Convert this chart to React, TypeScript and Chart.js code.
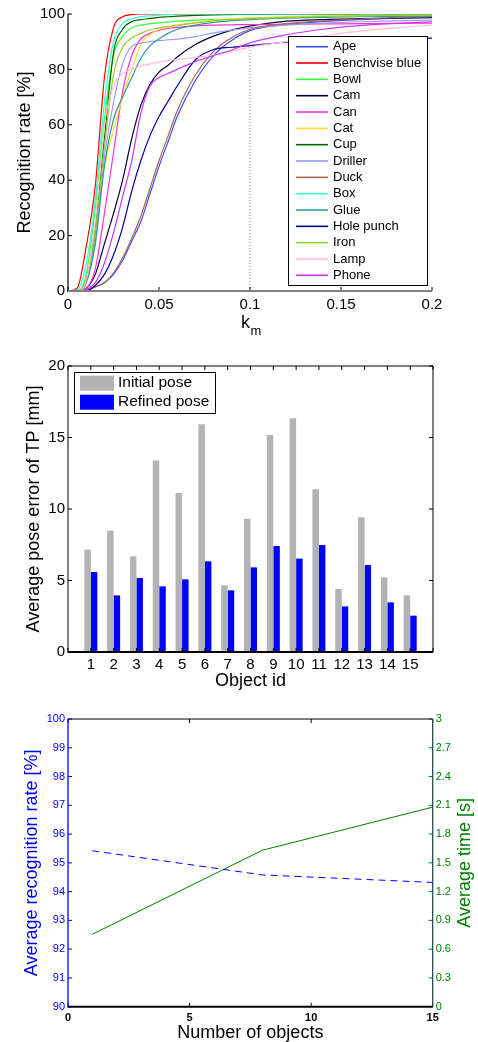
import React, { useEffect, useRef } from 'react';
import { Chart, registerables } from 'chart.js';

Chart.register(...registerables);

const FONT = '"Liberation Sans", Arial, Helvetica, sans-serif';

// ---------------- Chart 1: recognition rate vs k_m ----------------
const KM = [0, 0.005, 0.01, 0.015, 0.02, 0.025, 0.03, 0.035, 0.04, 0.045, 0.05, 0.055, 0.06, 0.07, 0.08, 0.09, 0.1, 0.12, 0.14, 0.16, 0.18, 0.2];
const KM_TICKS = [0, 0.05, 0.1, 0.15, 0.2];
const KM_TICK_LABELS = ['0', '0.05', '0.1', '0.15', '0.2'];
const OBJECT_NAMES = ['Ape', 'Benchvise blue', 'Bowl', 'Cam', 'Can', 'Cat', 'Cup', 'Driller', 'Duck', 'Box', 'Glue', 'Hole punch', 'Iron', 'Lamp', 'Phone'];
const OBJECT_COLORS = ['#3d4dff', '#ff0000', '#33ff33', '#000033', '#ff33cc', '#ffdd33', '#006600', '#9999ff', '#aa6655', '#33ffcc', '#339999', '#000099', '#99cc33', '#ffbbdd', '#cc33ff'];
const APE = [0, 0, 0.3, 1.5, 3, 6, 11, 18, 25, 35, 45, 54, 63, 76, 85, 90.5, 94, 96.2, 97.3, 98, 98.5, 98.8];
const BENCHVISE = [0, 1, 16, 38, 77, 95, 99, 99.8, 100, 100, 100, 100, 100, 100, 100, 100, 100, 100, 100, 100, 100, 100];
const BOWL = [0, 0, 6, 30, 62, 85, 92, 95, 96, 96.5, 96.8, 97.1, 97.4, 97.8, 98, 98.2, 98.5, 99, 99.2, 99.4, 99.5, 99.6];
const CAM = [0, 0, 1, 6, 17, 28, 40, 55, 67, 74.5, 79, 81.5, 84.5, 89, 92, 94.2, 95.6, 97.4, 98, 98.3, 98.5, 98.7];
const CAN = [0, 0, 1, 8, 28, 50, 72, 85, 91, 93, 94.2, 94.8, 95.2, 95.7, 96, 96.1, 96.2, 96.3, 96.4, 96.5, 96.6, 96.7];
const CAT = [0, 0, 4, 20, 45, 58, 70, 80, 89, 92.5, 94.5, 95.2, 95.8, 96.8, 97.7, 98.2, 98.6, 99, 99.3, 99.5, 99.6, 99.7];
const CUP = [0, 0, 4, 22, 55, 86, 94.5, 97.3, 98, 98.4, 98.8, 99, 99.2, 99.5, 99.7, 99.8, 99.9, 100, 100, 100, 100, 100];
const DRILLER = [0, 0, 3, 18, 48, 68, 82, 88.3, 89.5, 90, 90.4, 90.7, 90.9, 91.8, 93.2, 94.2, 95, 96, 96.7, 97.2, 97.5, 97.8];
const DUCK = [0, 0, 0.5, 1.5, 3, 6.5, 12, 19, 27, 37, 47, 56, 65, 78, 86.5, 91.5, 94.5, 96.5, 97.5, 98.2, 98.7, 99];
const BOX = [0, 0.5, 10, 33, 68, 90, 96.5, 98.3, 99, 99.3, 99.6, 99.8, 100, 100, 100, 100, 100, 100, 100, 100, 100, 100];
const GLUE = [0, 0, 3, 17, 45, 62, 70, 77, 84, 88.5, 91, 93, 94.5, 96, 97, 97.6, 98, 98.5, 98.8, 99, 99.1, 99.2];
const HOLE_PUNCH = [0, 0, 0, 2, 6, 13, 23, 36, 47, 56, 63, 68.5, 74, 83.5, 87.2, 88, 88.6, 89.8, 90.3, 90.7, 91, 91.3];
const IRON = [0, 0, 4, 22, 52, 78, 88, 91.3, 93, 94.3, 95, 95.5, 96, 96.8, 97.5, 98, 98.3, 98.8, 99.1, 99.3, 99.5, 99.6];
const LAMP = [0, 0, 4, 26, 60, 74, 78.5, 80, 81.2, 82, 82.7, 83.2, 83.6, 84.3, 85.2, 86.5, 88, 90, 92, 93.8, 95, 96];
const PHONE = [0, 0, 0.5, 3, 10, 21, 34, 47, 64, 74, 77, 78.5, 80, 82.8, 85, 87, 89.6, 92.5, 94.5, 95.8, 96.6, 97.2];
const OBJECT_SERIES = [APE, BENCHVISE, BOWL, CAM, CAN, CAT, CUP, DRILLER, DUCK, BOX, GLUE, HOLE_PUNCH, IRON, LAMP, PHONE];
const KM_MARK = 0.1;
const KM_MARK_TOP = 88.5;

// ---------------- Chart 2: pose error per object ----------------
const OBJECT_IDS = [1, 2, 3, 4, 5, 6, 7, 8, 9, 10, 11, 12, 13, 14, 15];
const INITIAL_POSE = [7.16, 8.49, 6.69, 13.4, 11.12, 15.92, 4.66, 9.32, 15.17, 16.34, 11.38, 4.41, 9.42, 5.22, 3.96];
const REFINED_POSE = [5.59, 3.96, 5.17, 4.59, 5.08, 6.34, 4.31, 5.92, 7.41, 6.53, 7.48, 3.19, 6.08, 3.47, 2.54];

// ---------------- Chart 3: rate and time vs number of objects ----------------
const NUM_OBJECTS = [1, 8, 15];
const AVG_RATE = [95.42, 94.58, 94.32];
const AVG_TIME = [0.755, 1.632, 2.081];
const TIME_TICKS = [0, 0.3, 0.6, 0.9, 1.2, 1.5, 1.8, 2.1, 2.4, 2.7, 3];

function seg(ctx: CanvasRenderingContext2D, x0: number, y0: number, x1: number, y1: number, color: string, w = 1) {
  ctx.beginPath();
  ctx.strokeStyle = color;
  ctx.lineWidth = w;
  ctx.moveTo(x0, y0);
  ctx.lineTo(x1, y1);
  ctx.stroke();
}

const matlabAxes = {
  id: 'matlabAxes',
  afterDatasetsDraw(chart: any, _a: any, o: any) {
    const ctx = chart.ctx as CanvasRenderingContext2D;
    const a = chart.chartArea;
    const L = o.tickLen || 4;
    ctx.save();
    const xs = chart.scales.x;
    const xp = xs.ticks.map((_t: any, i: number) => xs.getPixelForTick(i));
    const yl = chart.scales[o.leftScale || 'y'];
    const yp = yl.ticks.map((_t: any, i: number) => yl.getPixelForTick(i));
    xp.forEach((p: number) => {
      seg(ctx, p, a.bottom, p, a.bottom - L, o.tickColor || '#000');
      if (o.box) seg(ctx, p, a.top, p, a.top + L, o.topColor || '#000');
    });
    yp.forEach((p: number) => seg(ctx, a.left, p, a.left + L, p, o.leftColor || '#000'));
    if (o.rightScale) {
      const yr = chart.scales[o.rightScale];
      yr.ticks.forEach((_t: any, i: number) => {
        const p = yr.getPixelForTick(i);
        seg(ctx, a.right, p, a.right - L, p, o.rightTickColor || o.rightColor || '#000');
      });
    }
    if (o.box) {
      seg(ctx, a.left, a.top, a.right, a.top, o.topColor || '#000', o.topWidth || 1);
      seg(ctx, a.right, a.top, a.right, a.bottom, o.rightColor || '#000', o.rightWidth || 1);
    }
    seg(ctx, a.left, a.top, a.left, a.bottom + (o.bottomWidth || 1) / 2, o.leftColor || '#000', o.leftWidth || 1);
    seg(ctx, a.left, a.bottom, a.right, a.bottom, o.bottomColor || '#000', o.bottomWidth || 1);
    ctx.restore();
  },
};

const boxLegend = {
  id: 'boxLegend',
  afterDraw(chart: any, _a: any, o: any) {
    const ctx = chart.ctx as CanvasRenderingContext2D;
    ctx.save();
    ctx.fillStyle = '#fff';
    ctx.fillRect(o.x, o.y, o.w, o.h);
    ctx.strokeStyle = '#000';
    ctx.lineWidth = 1;
    ctx.strokeRect(o.x + 0.5, o.y + 0.5, o.w, o.h);
    ctx.font = `${o.fontSize}px ${FONT}`;
    ctx.textBaseline = 'middle';
    ctx.textAlign = 'left';
    const items = chart.data.datasets.filter((d: any) => d.inLegend !== false);
    items.forEach((d: any, i: number) => {
      const cy = o.firstY + i * o.rowH;
      if (o.kind === 'line') {
        seg(ctx, o.sx0, cy, o.sx1, cy, d.borderColor, 1.6);
      } else {
        ctx.fillStyle = d.backgroundColor;
        ctx.fillRect(o.sx0, cy - o.patchH / 2, o.sx1 - o.sx0, o.patchH);
      }
      ctx.fillStyle = '#000';
      ctx.fillText(d.label, o.tx, cy);
    });
    ctx.restore();
  },
};

const subTitle = {
  id: 'subTitle',
  afterDraw(chart: any, _a: any, o: any) {
    const ctx = chart.ctx as CanvasRenderingContext2D;
    ctx.save();
    ctx.fillStyle = '#000';
    ctx.textBaseline = 'alphabetic';
    ctx.textAlign = 'left';
    ctx.font = `${o.size}px ${FONT}`;
    ctx.fillText(o.main, o.x, o.y);
    const w = ctx.measureText(o.main).width;
    ctx.font = `${o.subSize}px ${FONT}`;
    ctx.fillText(o.sub, o.x + w + 0.5, o.y + o.subDy);
    ctx.restore();
  },
};

const rightTitle = {
  id: 'rightTitle',
  afterDraw(chart: any, _a: any, o: any) {
    const ctx = chart.ctx as CanvasRenderingContext2D;
    const a = chart.chartArea;
    ctx.save();
    ctx.translate(o.x, (a.top + a.bottom) / 2);
    ctx.rotate(-Math.PI / 2);
    ctx.font = `${o.size}px ${FONT}`;
    ctx.fillStyle = o.color;
    ctx.textAlign = 'center';
    ctx.textBaseline = 'middle';
    ctx.fillText(o.text, 0, 0);
    ctx.restore();
  },
};

function useChart(make: () => any) {
  const ref = useRef<HTMLCanvasElement | null>(null);
  useEffect(() => {
    if (!ref.current) return;
    const chart = new Chart(ref.current, make());
    return () => chart.destroy();
  }, []);
  return ref;
}

const tickFont = (size: number, weight: any = 'normal') => ({ family: FONT, size, weight });
const noGrid = { display: false, drawTicks: false };

function recognitionConfig(): any {
  const datasets: any[] = OBJECT_SERIES.map((vals, i) => ({
    label: OBJECT_NAMES[i],
    data: KM.map((k, j) => ({ x: k, y: vals[j] })),
    borderColor: OBJECT_COLORS[i],
    backgroundColor: OBJECT_COLORS[i],
    borderWidth: 1.2,
    pointRadius: 0,
    cubicInterpolationMode: 'monotone',
    order: 40 - i,
  }));
  datasets.push({
    label: 'k_m = 0.1',
    inLegend: false,
    data: [{ x: KM_MARK, y: 0 }, { x: KM_MARK, y: KM_MARK_TOP }],
    borderColor: '#8c8c8c',
    borderDash: [1, 2],
    borderWidth: 1,
    pointRadius: 0,
    order: 60,
  });
  return {
    type: 'line',
    data: { datasets },
    options: {
      animation: false,
      responsive: false,
      layout: { padding: { top: 14, right: 46, left: 0, bottom: 0 } },
      plugins: {
        legend: { display: false },
        tooltip: { enabled: false },
        matlabAxes: { tickLen: 4, box: false, bottomColor: '#808080', bottomWidth: 2, leftColor: '#000', leftWidth: 1.2 },
        boxLegend: { kind: 'line', x: 288, y: 36, w: 139, h: 249, firstY: 46.7, rowH: 16.33, sx0: 296, sx1: 328, tx: 333, fontSize: 13 },
        subTitle: { main: 'k', sub: 'm', x: 241, y: 328, size: 18, subSize: 13, subDy: 7 },
      },
      scales: {
        x: {
          type: 'linear', min: 0, max: 0.2,
          afterBuildTicks: (s: any) => { s.ticks = KM_TICKS.map((v) => ({ value: v })); },
          ticks: { font: tickFont(15), color: '#000', padding: 5, callback: (_v: any, i: number) => KM_TICK_LABELS[i] },
          grid: noGrid, border: { display: false },
          afterFit: (s: any) => { s.height = 49; },
        },
        y: {
          type: 'linear', min: 0, max: 100,
          ticks: { stepSize: 20, font: tickFont(15), color: '#000', padding: 3 },
          grid: noGrid, border: { display: false },
          title: { display: true, text: 'Recognition rate [%]', font: { family: FONT, size: 18 }, color: '#000', padding: { top: 14, bottom: 0 } },
          afterFit: (s: any) => { s.width = 68; },
        },
      },
    },
    plugins: [matlabAxes, boxLegend, subTitle],
  };
}

function poseConfig(): any {
  const labels = ['', ...OBJECT_IDS.map(String), ''];
  return {
    type: 'bar',
    data: {
      labels,
      datasets: [
        { label: 'Initial pose', data: [null, ...INITIAL_POSE, null], backgroundColor: '#b3b3b3', borderWidth: 0, categoryPercentage: 0.57, barPercentage: 1 },
        { label: 'Refined pose', data: [null, ...REFINED_POSE, null], backgroundColor: '#0000ff', borderWidth: 0, categoryPercentage: 0.57, barPercentage: 1 },
      ],
    },
    options: {
      animation: false,
      responsive: false,
      layout: { padding: { top: 26, right: 45, left: 0, bottom: 0 } },
      plugins: {
        legend: { display: false },
        tooltip: { enabled: false },
        matlabAxes: { tickLen: 4, box: true, rightScale: 'y', bottomWidth: 2 },
        boxLegend: { kind: 'rect', x: 74, y: 32, w: 141, h: 41, firstY: 43.2, rowH: 19, sx0: 80, sx1: 114, patchH: 15, tx: 118, fontSize: 15.5 },
      },
      scales: {
        x: {
          type: 'category', offset: false,
          ticks: { autoSkip: false, maxRotation: 0, font: tickFont(15), color: '#000', padding: 4 },
          grid: noGrid, border: { display: false },
          title: { display: true, text: 'Object id', font: { family: FONT, size: 18, lineHeight: 1 }, color: '#000', padding: 0 },
          afterFit: (s: any) => { s.height = 38; },
        },
        y: {
          type: 'linear', min: 0, max: 20,
          ticks: { stepSize: 5, font: tickFont(15), color: '#000', padding: 3 },
          grid: noGrid, border: { display: false },
          title: { display: true, text: 'Average pose error of TP [mm]', font: { family: FONT, size: 18 }, color: '#000', padding: { top: 23, bottom: 0 } },
          afterFit: (s: any) => { s.width = 68; },
        },
      },
    },
    plugins: [matlabAxes, boxLegend],
  };
}

function scalingConfig(): any {
  return {
    type: 'line',
    data: {
      datasets: [
        {
          label: 'Average recognition rate',
          data: NUM_OBJECTS.map((n, i) => ({ x: n, y: AVG_RATE[i] })),
          borderColor: '#0000ff', borderWidth: 1, borderDash: [7, 5], pointRadius: 0, yAxisID: 'y',
        },
        {
          label: 'Average time',
          data: NUM_OBJECTS.map((n, i) => ({ x: n, y: AVG_TIME[i] })),
          borderColor: '#008000', borderWidth: 1, pointRadius: 0, yAxisID: 'y1',
        },
      ],
    },
    options: {
      animation: false,
      responsive: false,
      layout: { padding: { top: 29, right: 0, left: 0, bottom: 0 } },
      plugins: {
        legend: { display: false },
        tooltip: { enabled: false },
        matlabAxes: {
          tickLen: 4, box: true, rightScale: 'y1',
          leftColor: '#0000ff', leftWidth: 1.3, rightColor: '#1f5050', rightTickColor: '#008000', rightWidth: 1.3,
          bottomWidth: 2,
        },
        rightTitle: { text: 'Average time [s]', x: 465, size: 18, color: '#008000' },
      },
      scales: {
        x: {
          type: 'linear', min: 0, max: 15,
          ticks: { stepSize: 5, font: tickFont(11, 'bold'), color: '#000', padding: 5 },
          grid: noGrid, border: { display: false },
          title: { display: true, text: 'Number of objects', font: { family: FONT, size: 18, lineHeight: 1 }, color: '#000', padding: 0 },
          afterFit: (s: any) => { s.height = 35.3; },
        },
        y: {
          type: 'linear', position: 'left', min: 90, max: 100,
          ticks: { stepSize: 1, font: tickFont(11), color: '#0000ff', padding: 3 },
          grid: noGrid, border: { display: false },
          title: { display: true, text: 'Average recognition rate [%]', font: { family: FONT, size: 18 }, color: '#0000ff', padding: { top: 21, bottom: 0 } },
          afterFit: (s: any) => { s.width = 68; },
        },
        y1: {
          type: 'linear', position: 'right', min: 0, max: 3,
          afterBuildTicks: (s: any) => { s.ticks = TIME_TICKS.map((v) => ({ value: v })); },
          ticks: { font: tickFont(11), color: '#008000', padding: 3, callback: (v: any) => String(v) },
          grid: noGrid, border: { display: false },
          afterFit: (s: any) => { s.width = 45.3; },
        },
      },
    },
    plugins: [matlabAxes, rightTitle],
  };
}

export default function App() {
  const r1 = useChart(recognitionConfig);
  const r2 = useChart(poseConfig);
  const r3 = useChart(scalingConfig);
  const cs = (top: number): React.CSSProperties => ({ position: 'absolute', left: 0, top, display: 'block' });
  return (
    <div style={{ position: 'absolute', left: 0, top: 0, width: 478, height: 1042, background: '#fff', overflow: 'hidden' }}>
      <canvas ref={r1} width={478} height={340} style={cs(0)} />
      <canvas ref={r2} width={478} height={350} style={cs(340)} />
      <canvas ref={r3} width={478} height={352} style={cs(690)} />
    </div>
  );
}
